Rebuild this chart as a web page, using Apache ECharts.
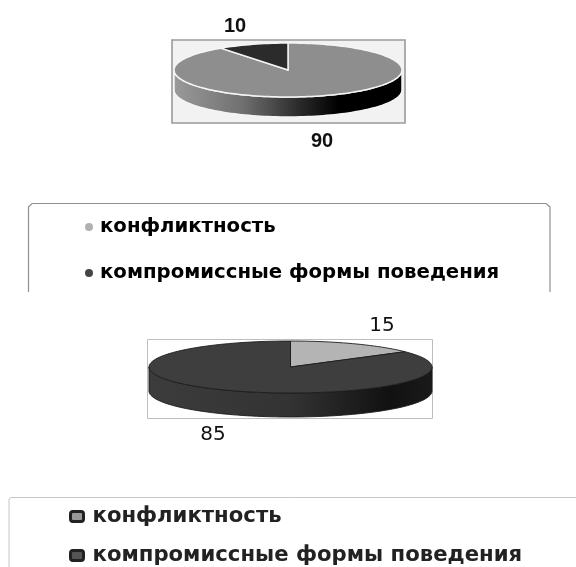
<!DOCTYPE html>
<html><head><meta charset="utf-8">
<style>html,body{margin:0;padding:0;background:#fff}#c{width:576px;height:567px;filter:blur(0.6px)}</style>
<script src="https://cdn.jsdelivr.net/npm/echarts@6/dist/echarts.min.js"></script>
</head><body><div id="c"></div>
<script>
const categories = ['конфликтность', 'компромиссные формы поведения'];
const valuesTop = [90, 10];
const valuesBottom = [15, 85];

const topPie = {cx: 288, cy: 70, rx: 114, ry: 27, depth: 20, colors: ['#8e8e8e', '#2b2b2b'], stroke: '#f4f4f4', strokeW: 1.5,
  side: [[0, '#9a9a9a'], [0.3, '#707070'], [0.55, '#2a2a2a'], [0.72, '#000'], [1, '#000']],
  labelFont: 'bold 20px "Liberation Sans"',
  labels: [[322, 141], [235, 26]]};
const botPie = {cx: 290.5, cy: 367, rx: 141.5, ry: 26, depth: 24, colors: ['#b4b4b4', '#3e3e3e'], stroke: '#1c1c1c', strokeW: 0.9,
  side: [[0, '#3c3c3c'], [0.5, '#333'], [0.85, '#111'], [1, '#1a1a1a']],
  labelFont: '20px "DejaVu Sans"',
  labels: [[382, 326], [213, 435]]};

function pt(p, a, dy) {
  const r = a * Math.PI / 180;
  return [p.cx + p.rx * Math.sin(r), p.cy - p.ry * Math.cos(r) + (dy || 0)];
}
function arc(p, a, b, dy) {
  const out = [], n = Math.max(2, Math.ceil((b - a) / 2));
  for (let i = 0; i <= n; i++) out.push(pt(p, a + (b - a) * i / n, dy));
  return out;
}
function pieSeries(p, values) {
  const total = values.reduce((s, v) => s + v, 0);
  let acc = 0;
  return values.map((v, i) => {
    const start = acc / total * 360; acc += v;
    const end = acc / total * 360;
    return {
      type: 'custom', coordinateSystem: 'none', name: categories[i], silent: true, animation: false,
      z: 5,
      data: [[start, end, v]],
      renderItem(params, api) {
        const a = api.value(0), b = api.value(1), kids = [];
        const fa = Math.max(a, 90), fb = Math.min(b, 270);
        if (fb > fa) {
          const top = arc(p, fa, fb, 0), bot = arc(p, fa, fb, p.depth).reverse();
          const x0 = pt(p, 270)[0], x1 = pt(p, 90)[0];
          kids.push({type: 'polygon', shape: {points: top.concat(bot)},
            style: {stroke: p.stroke, lineWidth: p.strokeW,
              fill: {type: 'linear', global: true, x: x0, y: 0, x2: x1, y2: 0,
                colorStops: p.side.map(s => ({offset: s[0], color: s[1]}))}}});
        }
        kids.push({type: 'polygon', shape: {points: [[p.cx, p.cy]].concat(arc(p, a, b, 0))},
          style: {fill: p.colors[i], stroke: p.stroke, lineWidth: p.strokeW}});
        kids.push({type: 'text', x: p.labels[i][0], y: p.labels[i][1],
          style: {text: String(api.value(2)), x: 0, y: 0, align: 'center', verticalAlign: 'middle',
            font: p.labelFont, fill: '#111'}});
        return {type: 'group', children: kids};
      }
    };
  });
}
const option = {
  backgroundColor: '#fff',
  animation: false,
  legend: [
    {left: 85, top: 217, padding: 0, orient: 'vertical', itemGap: 26, itemWidth: 8, itemHeight: 8, selectedMode: false,
     textStyle: {fontFamily: 'DejaVu Sans', fontWeight: 'bold', fontSize: 19.7, color: '#000', padding: [0, 0, 0, 2]},
     data: [{name: categories[0], icon: 'circle', itemStyle: {color: '#b0b0b0'}},
            {name: categories[1], icon: 'circle', itemStyle: {color: '#444'}}]},
    {left: 69, top: 506, padding: 0, orient: 'vertical', itemGap: 18, itemWidth: 13, itemHeight: 10, selectedMode: false,
     textStyle: {fontFamily: 'DejaVu Sans', fontWeight: 'bold', fontSize: 21.2, color: '#222', padding: [0, 0, 0, 4]},
     data: [{name: categories[0], icon: 'roundRect', itemStyle: {color: '#999', borderColor: '#222', borderWidth: 3}},
            {name: categories[1], icon: 'roundRect', itemStyle: {color: '#555', borderColor: '#222', borderWidth: 3}}]}
  ],
  graphic: [
    {type: 'rect', z: 1, shape: {x: 172, y: 40, width: 233, height: 83}, style: {fill: '#f2f2f2', stroke: '#9a9a9a', lineWidth: 1.6}},
    {type: 'rect', z: 1, shape: {x: 147.5, y: 339.5, width: 285, height: 79}, style: {fill: '#fff', stroke: '#bdbdbd', lineWidth: 1}},
    {type: 'polyline', z: 1, shape: {points: [[28.5, 292], [28.5, 207], [32, 203.5], [546, 203.5], [550, 207], [550, 292]]}, style: {fill: null, stroke: '#8f8f8f', lineWidth: 1.2}},
    {type: 'polyline', z: 1, shape: {points: [[9, 567], [9, 499], [11, 497.5], [576, 497.5]]}, style: {fill: null, stroke: '#c6c6c6', lineWidth: 1}}
  ],
  series: pieSeries(topPie, valuesTop).concat(pieSeries(botPie, valuesBottom))
};
const chart = echarts.init(document.getElementById('c'));
chart.setOption(option);
</script></body></html>
